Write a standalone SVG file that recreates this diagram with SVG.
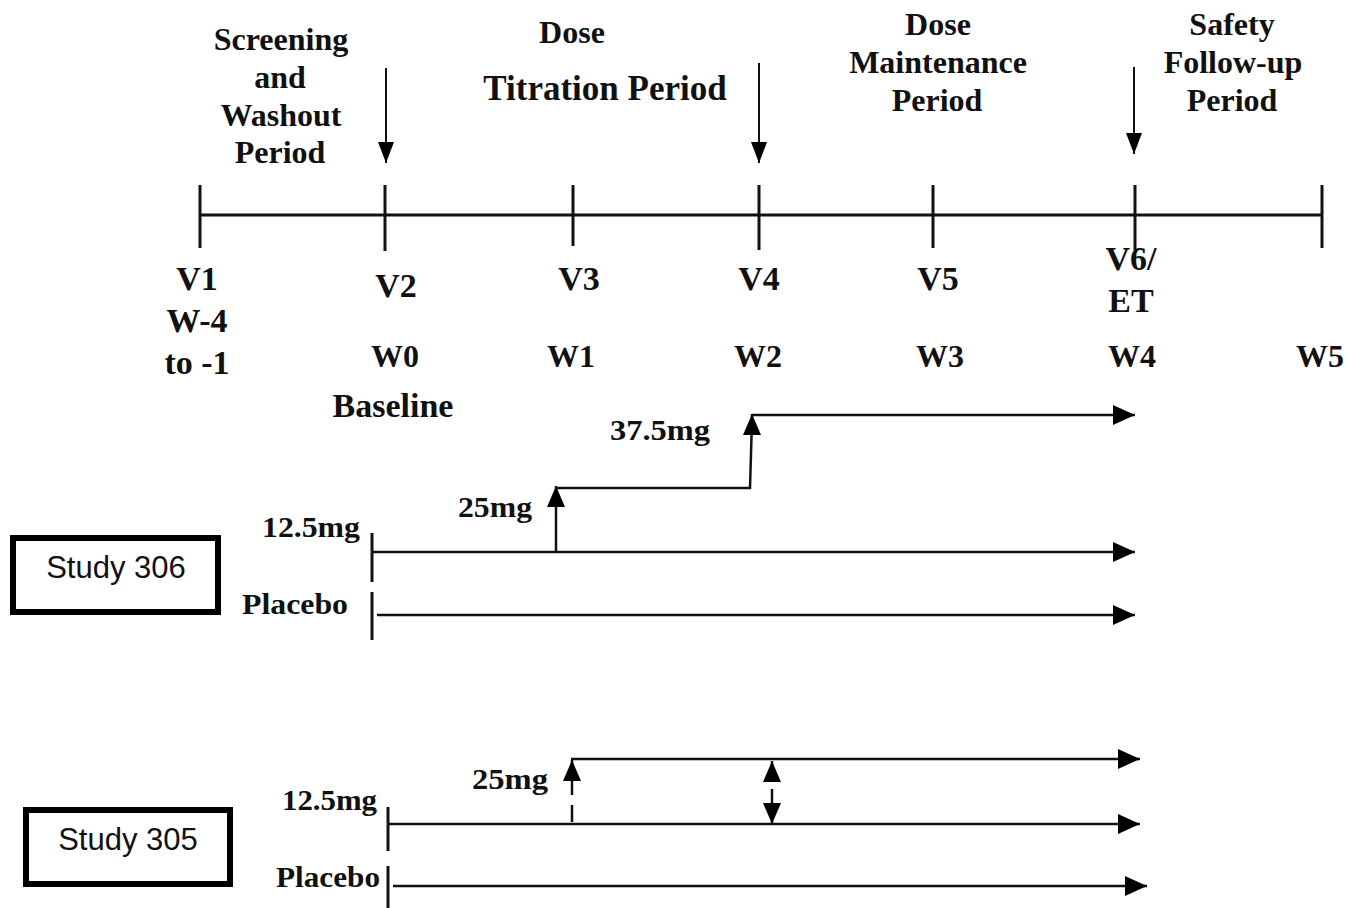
<svg xmlns="http://www.w3.org/2000/svg" width="1348" height="908" viewBox="0 0 1348 908">
  <style>
    .t { font-family: "Liberation Serif", "Times New Roman", serif; font-weight: bold; fill: #111; text-anchor: middle; }
    .s32 { font-size: 32px; }
    .s34 { font-size: 34px; }
    .s35 { font-size: 35px; }
    .d { font-family: "Liberation Serif", "Times New Roman", serif; font-weight: bold; fill: #111; font-size: 30px; }
    .sb { font-family: "Liberation Sans", Arial, sans-serif; font-size: 31px; fill: #111; text-anchor: middle; }
    .box { fill: #fff; stroke: #000; stroke-width: 6; }
    .ln { stroke: #111; stroke-width: 3; fill: none; }
    .dl { stroke: #111; stroke-width: 2.5; fill: none; }
    .ar { stroke: #111; stroke-width: 2; fill: none; }
  </style>
  <defs>
    <marker id="ah" markerUnits="userSpaceOnUse" markerWidth="22" markerHeight="20" refX="22" refY="10" orient="auto" viewBox="0 0 22 20">
      <path d="M0,0 L22,10 L0,20 Z" fill="#000"/>
    </marker>
    <marker id="ahs" markerUnits="userSpaceOnUse" markerWidth="21" markerHeight="16" refX="21" refY="8" orient="auto" viewBox="0 0 21 16">
      <path d="M0,0 L21,8 L0,16 Z" fill="#000"/>
    </marker>
    <marker id="ahm" markerUnits="userSpaceOnUse" markerWidth="21" markerHeight="18" refX="21" refY="9" orient="auto" viewBox="0 0 21 18">
      <path d="M0,0 L21,9 L0,18 Z" fill="#000"/>
    </marker>
  </defs>
  <rect width="1348" height="908" fill="#fff"/>

  <!-- Period headers -->
  <g id="period-screening">
    <text class="t s32" x="281" y="50">Screening</text>
    <text class="t s32" x="280" y="88">and</text>
    <text class="t s32" x="281" y="126">Washout</text>
    <text class="t s32" x="280" y="163">Period</text>
  </g>
  <g id="period-titration">
    <text class="t s32" x="572" y="43">Dose</text>
    <text class="t s35" x="605" y="100">Titration Period</text>
  </g>
  <g id="period-maintenance">
    <text class="t s32" x="938" y="35">Dose</text>
    <text class="t s32" x="938" y="73">Maintenance</text>
    <text class="t s32" x="937" y="111">Period</text>
  </g>
  <g id="period-safety">
    <text class="t s32" x="1232" y="35">Safety</text>
    <text class="t s32" x="1233" y="73">Follow-up</text>
    <text class="t s32" x="1232" y="111">Period</text>
  </g>

  <!-- Timeline -->
  <g id="timeline">
    <line class="ln" x1="200" y1="215" x2="1322" y2="215"/>
    <line class="ln" x1="200" y1="185" x2="200" y2="248"/>
    <line class="ln" x1="385" y1="185" x2="385" y2="251"/>
    <line class="ln" x1="573" y1="185" x2="573" y2="246"/>
    <line class="ln" x1="759" y1="185" x2="759" y2="250"/>
    <line class="ln" x1="933" y1="185" x2="933" y2="248"/>
    <line class="ln" x1="1135" y1="185" x2="1135" y2="250"/>
    <line class="ln" x1="1322" y1="185" x2="1322" y2="248"/>
  </g>

  <!-- Visit labels -->
  <g id="visit-v1">
    <text class="t s34" x="197" y="290">V1</text>
    <text class="t s34" x="197" y="332">W-4</text>
    <text class="t s34" x="197" y="374">to -1</text>
  </g>
  <g id="visit-v2">
    <text class="t s34" x="396" y="297">V2</text>
    <text class="t s32" x="395" y="367">W0</text>
    <text class="t s34" x="393" y="417">Baseline</text>
  </g>
  <g id="visit-v3">
    <text class="t s34" x="579" y="290">V3</text>
    <text class="t s32" x="571" y="367">W1</text>
  </g>
  <g id="visit-v4">
    <text class="t s34" x="759" y="290">V4</text>
    <text class="t s32" x="758" y="367">W2</text>
  </g>
  <g id="visit-v5">
    <text class="t s34" x="938" y="290">V5</text>
    <text class="t s32" x="940" y="367">W3</text>
  </g>
  <g id="visit-v6">
    <text class="t s34" x="1131" y="270">V6/</text>
    <text class="t s34" x="1131" y="312">ET</text>
    <text class="t s32" x="1132" y="367">W4</text>
  </g>
  <g id="visit-w5">
    <text class="t s32" x="1320" y="367">W5</text>
  </g>

  <!-- Study 306 -->
  <g id="study-306">
    <rect class="box" x="13" y="538" width="205" height="74"/>
    <text class="sb" x="116" y="578">Study 306</text>
  </g>
  <g id="s306-labels">
    <text class="d" x="262" y="537" textLength="98" lengthAdjust="spacingAndGlyphs">12.5mg</text>
    <text class="d" x="242" y="614" textLength="106" lengthAdjust="spacingAndGlyphs">Placebo</text>
    <text class="d" x="458" y="517" textLength="74" lengthAdjust="spacingAndGlyphs">25mg</text>
    <text class="d" x="610" y="440" textLength="100" lengthAdjust="spacingAndGlyphs">37.5mg</text>
  </g>

  <!-- Study 305 -->
  <g id="study-305">
    <rect class="box" x="26" y="810" width="204" height="74"/>
    <text class="sb" x="128" y="850">Study 305</text>
  </g>
  <g id="s305-labels">
    <text class="d" x="282" y="810" textLength="95" lengthAdjust="spacingAndGlyphs">12.5mg</text>
    <text class="d" x="276" y="887" textLength="104" lengthAdjust="spacingAndGlyphs">Placebo</text>
    <text class="d" x="472" y="789" textLength="76" lengthAdjust="spacingAndGlyphs">25mg</text>
  </g>

  <!-- Connectors -->
  <g id="connectors">
    <!-- top period arrows -->
    <line class="ar" x1="386" y1="68" x2="386" y2="163" marker-end="url(#ahs)"/>
    <line class="ar" x1="759" y1="63" x2="759" y2="163" marker-end="url(#ahs)"/>
    <line class="ar" x1="1134" y1="67" x2="1134" y2="154" marker-end="url(#ahs)"/>

    <!-- Study 306 -->
    <line class="ln" x1="372" y1="533" x2="372" y2="582"/>
    <line class="ln" x1="372" y1="592" x2="372" y2="640"/>
    <line class="dl" x1="372" y1="552" x2="1135" y2="552" marker-end="url(#ah)"/>
    <line class="dl" x1="377" y1="615" x2="1135" y2="615" marker-end="url(#ah)"/>
    <line class="dl" x1="556" y1="552" x2="556" y2="486" marker-end="url(#ahm)"/>
    <polyline class="dl" points="556,488 750,488 752,420"/>
    <line class="dl" x1="752" y1="430" x2="752" y2="414" marker-end="url(#ahm)"/>
    <line class="dl" x1="752" y1="415" x2="1135" y2="415" marker-end="url(#ah)"/>

    <!-- Study 305 -->
    <line class="ln" x1="388" y1="807" x2="388" y2="851"/>
    <line class="ln" x1="388" y1="866" x2="388" y2="908"/>
    <line class="dl" x1="388" y1="824" x2="1140" y2="824" marker-end="url(#ah)"/>
    <line class="dl" x1="393" y1="886" x2="1147" y2="886" marker-end="url(#ah)"/>
    <line class="dl" x1="572" y1="822" x2="572" y2="805"/>
    <line class="dl" x1="572" y1="795" x2="572" y2="760" marker-end="url(#ahm)"/>
    <line class="dl" x1="571" y1="759" x2="1140" y2="759" marker-end="url(#ah)"/>
    <line class="dl" x1="772" y1="781" x2="772" y2="761" marker-end="url(#ahm)"/>
    <line class="dl" x1="772" y1="789" x2="772" y2="824" marker-end="url(#ahm)"/>
  </g>
</svg>
